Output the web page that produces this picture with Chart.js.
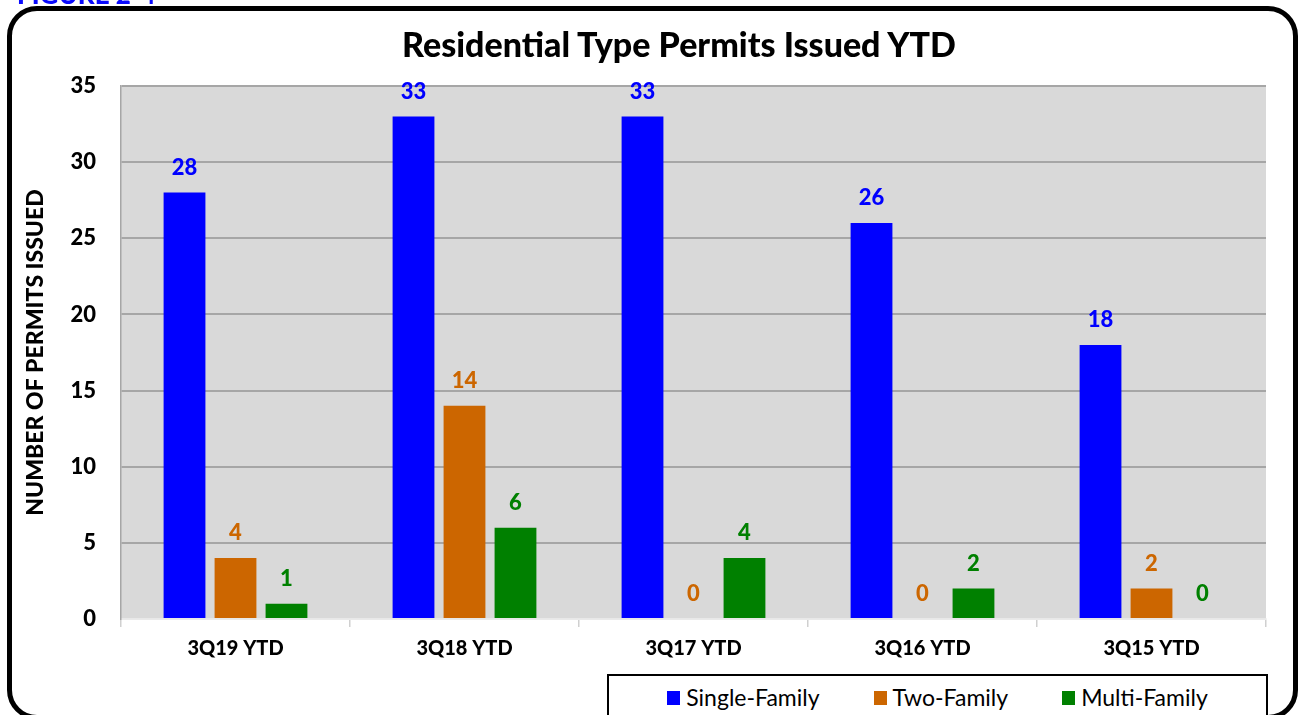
<!DOCTYPE html>
<html>
<head>
<meta charset="utf-8">
<script src="https://cdn.jsdelivr.net/npm/chart.js@4/dist/chart.umd.min.js"></script>
<style>
  html, body { margin: 0; padding: 0; background: #fff; overflow: hidden; }
  #wrap { position: absolute; left: 0; top: 0; width: 1299px; height: 715px; }
  #fig { position: absolute; left: 17px; top: -22px; font: 900 26px Lato, sans-serif; color: #0a0aff; }
  #frame { position: absolute; left: 7px; top: 6px; width: 1291px; height: 714px; box-sizing: border-box;
           border: 5px solid #000; border-radius: 30px; pointer-events: none; }
  #title { position: absolute; left: 329px; top: 23px; width: 700px; text-align: center;
           font: 900 34px Lato, sans-serif; color: #000; white-space: nowrap; }
  #legend { position: absolute; left: 607px; top: 674px; width: 661px; height: 60px; box-sizing: border-box;
            border: 2px solid #000; background: #fff; display: flex; justify-content: center;
            padding-top: 7px; font: 23px Lato, sans-serif; color: #000; }
  .item { display: flex; align-items: flex-start; margin: 0 27px; }
  .sw { width: 13px; height: 14px; margin: 8px 6px 0 0; }
</style>
</head>
<body>
<div id="wrap">
  <canvas id="permits"></canvas>
</div>
<div id="fig">FIGURE 2-4</div>
<div id="title">Residential Type Permits Issued YTD</div>
<div id="legend"></div>
<div id="frame"></div>
<script>
const categories = ["3Q19 YTD", "3Q18 YTD", "3Q17 YTD", "3Q16 YTD", "3Q15 YTD"];
const singleFamily = [28, 33, 33, 26, 18];
const twoFamily = [4, 14, 0, 0, 2];
const multiFamily = [1, 6, 4, 2, 0];
const seriesNames = ["Single-Family", "Two-Family", "Multi-Family"];
const seriesColors = ["#0000ff", "#cc6600", "#008000"];

// grey plot background
const plotBg = {
    id: "plotBg",
    beforeDraw(chart) {
        const a = chart.chartArea;
        const ctx = chart.ctx;
        ctx.save();
        ctx.fillStyle = "#d9d9d9";
        ctx.fillRect(a.left, a.top, a.right - a.left, a.bottom - a.top);
        ctx.restore();
    }
};

// value labels above each bar
const barLabels = {
    id: "barLabels",
    afterDatasetsDraw(chart) {
        const ctx = chart.ctx;
        ctx.save();
        ctx.font = "900 22px Lato, sans-serif";
        ctx.textAlign = "center";
        ctx.textBaseline = "middle";
        chart.data.datasets.forEach((ds, i) => {
            chart.getDatasetMeta(i).data.forEach((bar, j) => {
                ctx.fillStyle = ds.backgroundColor;
                ctx.fillText(ds.data[j], bar.x, bar.y - 25);
            });
        });
        ctx.restore();
    }
};

function createChart(name) {
    let ctx = document.getElementById(name).getContext("2d");
    return new Chart(ctx, {
        type: "bar",
        data: {
            labels: categories,
            datasets: [
                { label: seriesNames[0], data: singleFamily, backgroundColor: seriesColors[0] },
                { label: seriesNames[1], data: twoFamily, backgroundColor: seriesColors[1] },
                { label: seriesNames[2], data: multiFamily, backgroundColor: seriesColors[2] },
            ],
        },
        options: {
            responsive: true,
            maintainAspectRatio: false,
            animation: false,
            devicePixelRatio: 1,
            categoryPercentage: 0.668,
            barPercentage: 0.82,
            layout: { padding: { left: 18, right: 33, top: 86, bottom: 44 } },
            plugins: {
                legend: { display: false },
                tooltip: { enabled: false },
            },
            scales: {
                x: {
                    grid: { drawOnChartArea: false, drawTicks: true, tickLength: 8, color: "#d0d0d0", lineWidth: 1.5 },
                    border: { color: "#e8e8e8", width: 1.5 },
                    ticks: { color: "#000", padding: 10, font: { family: "Lato", weight: "900", size: 20 } },
                },
                y: {
                    min: 0,
                    max: 35,
                    ticks: { stepSize: 5, color: "#000", padding: 25, font: { family: "Lato", weight: "900", size: 22 } },
                    grid: {
                        drawTicks: false,
                        lineWidth: 2,
                        color: (c) => (c.tick && c.tick.value === 0 ? "#ececec" : "#a6a6a6"),
                    },
                    border: { color: "#a6a6a6", width: 1.5 },
                    title: {
                        display: true,
                        text: "NUMBER OF PERMITS ISSUED",
                        color: "#000",
                        font: { family: "Lato", weight: "900", size: 23 },
                    },
                    afterFit(scale) { scale.width = 103; },
                },
            },
        },
        plugins: [plotBg, barLabels],
    });
}

const chart = createChart("permits");

// legend built from the chart's datasets
const legendEl = document.getElementById("legend");
chart.data.datasets.forEach((ds) => {
    const item = document.createElement("div");
    item.className = "item";
    const sw = document.createElement("div");
    sw.className = "sw";
    sw.style.background = ds.backgroundColor;
    const txt = document.createElement("span");
    txt.textContent = ds.label;
    item.appendChild(sw);
    item.appendChild(txt);
    legendEl.appendChild(item);
});
</script>
</body>
</html>
